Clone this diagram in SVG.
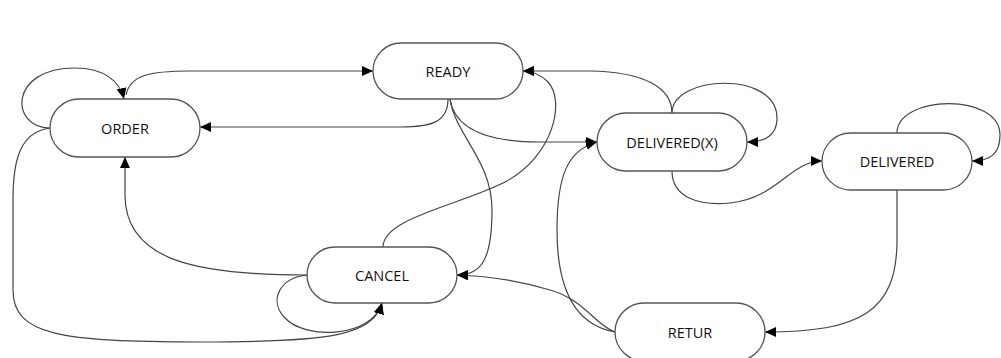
<svg xmlns="http://www.w3.org/2000/svg" width="1001" height="358" viewBox="0 0 1001 358">
  <defs>
    <marker id="arrow" markerUnits="userSpaceOnUse" markerWidth="12" markerHeight="10" refX="11" refY="5" orient="auto">
      <path d="M0,0 L11,5 L0,10 z" fill="#000"/>
    </marker>
    <style>
      .node rect { fill: #fff; stroke: #555; stroke-width: 1.3; }
      .node text { font-family: "Open Sans", "Noto Sans", sans-serif; font-size: 14.5px; fill: #111; text-anchor: middle; }
      .edges path { fill: none; stroke: #444; stroke-width: 1.2; marker-end: url(#arrow); }
    </style>
  </defs>
  <rect width="1001" height="358" fill="#fff"/>

  <g class="edges">
    <!-- ORDER self loop -->
    <path d="M50,128 C10,128 8,68 75,68 C105,68 120,82 124,99"/>
    <!-- ORDER -> READY -->
    <path d="M126,95 C130,75 150,71 190,71 L373,71"/>
    <!-- READY -> ORDER -->
    <path d="M448,99 C448,122 432,127 400,127 L200,127"/>
    <!-- READY -> DELIVERED(X) -->
    <path d="M450,99 C455,132 495,142 540,142 L597,142"/>
    <!-- READY -> CANCEL -->
    <path d="M450,99 C455,135 492,160 492,210 C492,262 480,275 457,275"/>
    <!-- CANCEL -> READY -->
    <path d="M383,247 C383,218 460,205 505,182 C555,155 565,100 548,82 C540,74 532,71 523,71"/>
    <!-- DELIVERED(X) -> READY -->
    <path d="M672,113 C672,88 645,72 590,71 L523,71"/>
    <!-- DELIVERED(X) self loop -->
    <path d="M672,113 C672,75 777,70 777,118 C777,135 765,142 747,142"/>
    <!-- DELIVERED(X) -> DELIVERED -->
    <path d="M672,171 C672,198 700,206 730,203 C778,198 790,161 822,161"/>
    <!-- DELIVERED self loop -->
    <path d="M897,133 C897,95 1000,92 1000,135 C1000,154 990,161 972,161"/>
    <!-- DELIVERED -> RETUR -->
    <path d="M897,190 L897,240 C897,312 860,332 765,332"/>
    <!-- RETUR -> CANCEL -->
    <path d="M615,332 C595,325 585,300 550,290 C520,281 490,276 457,275"/>
    <!-- RETUR -> DELIVERED(X) -->
    <path d="M615,332 C575,325 557,290 557,230 C557,175 568,150 597,142"/>
    <!-- CANCEL -> ORDER -->
    <path d="M307,275 C200,275 125,262 125,195 L125,157"/>
    <!-- ORDER -> CANCEL -->
    <path d="M50,128 C20,132 13,160 13,200 L13,290 C13,335 60,342 200,342 C330,342 372,336 382,303"/>
    <!-- CANCEL self loop -->
    <path d="M307,275 C280,278 268,300 285,318 C305,340 372,338 382,303"/>
  </g>

  <g id="order" class="node">
    <rect x="50" y="99" width="150" height="58" rx="29"/>
    <text x="125" y="133.5">ORDER</text>
  </g>
  <g id="ready" class="node">
    <rect x="373" y="43" width="150" height="56" rx="28"/>
    <text x="448" y="76.5">READY</text>
  </g>
  <g id="delivered-x" class="node">
    <rect x="597" y="113" width="150" height="58" rx="29"/>
    <text x="672" y="148">DELIVERED(X)</text>
  </g>
  <g id="delivered" class="node">
    <rect x="822" y="133" width="150" height="57" rx="28.5"/>
    <text x="897" y="166.5">DELIVERED</text>
  </g>
  <g id="cancel" class="node">
    <rect x="307" y="247" width="150" height="56" rx="28"/>
    <text x="382" y="280.5">CANCEL</text>
  </g>
  <g id="retur" class="node">
    <rect x="615" y="303" width="150" height="58" rx="29"/>
    <text x="690" y="337.5">RETUR</text>
  </g>
</svg>
